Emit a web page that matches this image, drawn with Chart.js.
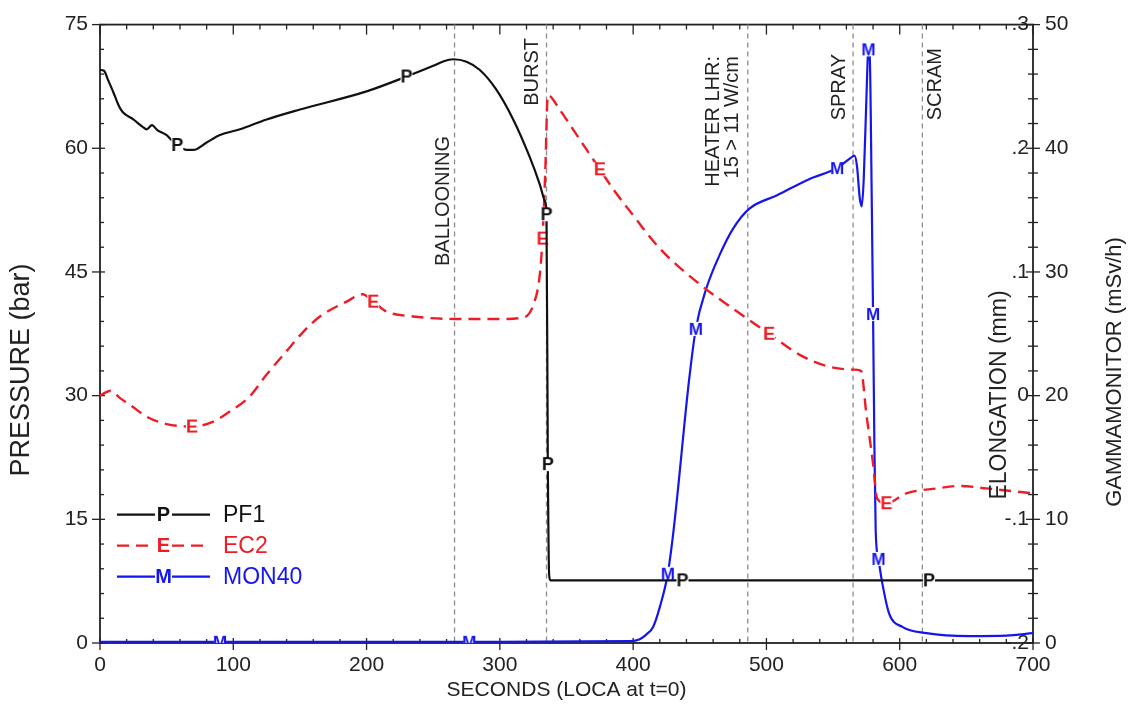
<!DOCTYPE html>
<html>
<head>
<meta charset="utf-8">
<script src="https://cdn.jsdelivr.net/npm/chart.js@4.4.0/dist/chart.umd.min.js"></script>
<style>
  html, body { margin: 0; padding: 0; background: #fff; }
  #wrap { width: 1133px; height: 718px; position: relative; }
</style>
</head>
<body>
<div id="wrap"><canvas id="loca"></canvas></div>
<script>
// PF1 pressure (bar), left axis
const pf1Time = [0, 3, 6, 10, 14, 17, 25, 32, 35, 39, 43, 50, 53, 58, 65, 70, 80, 90, 105, 125, 150, 200, 230, 250, 257, 265, 275, 285, 297, 310, 322, 330, 334, 335, 336, 337, 338, 437, 622, 700];
const pf1Pressure = [69.5, 69.4, 68.3, 66.8, 65.2, 64.4, 63.5, 62.6, 62.3, 62.8, 62.2, 61.6, 61.1, 60.4, 59.8, 59.8, 60.7, 61.6, 62.3, 63.5, 64.7, 66.9, 68.7, 70.0, 70.5, 70.8, 70.5, 69.5, 67.2, 63.5, 59.1, 55.6, 53.5, 52.0, 21.7, 8.2, 7.6, 7.6, 7.6, 7.6];
const pf1Marks = [58, 230, 335, 336, 437, 622];

// EC2 elongation (mm), inner right axis
const ec2Time = [0, 8, 15, 22, 35, 50, 69, 85, 97, 112, 125, 140, 152, 165, 185, 197, 205, 215, 235, 267, 300, 317, 325, 330, 332, 334, 336, 345, 360, 375, 385, 397, 420, 450, 478, 502, 525, 545, 565, 571, 575, 580, 583, 590, 605, 628, 645, 665, 700];
const ec2Elong = [0.000, 0.004, -0.002, -0.007, -0.017, -0.023, -0.025, -0.021, -0.013, -0.001, 0.017, 0.036, 0.051, 0.064, 0.076, 0.082, 0.076, 0.068, 0.064, 0.062, 0.062, 0.063, 0.073, 0.098, 0.127, 0.179, 0.243, 0.231, 0.207, 0.183, 0.167, 0.150, 0.119, 0.090, 0.068, 0.050, 0.033, 0.024, 0.021, 0.020, -0.015, -0.055, -0.083, -0.087, -0.079, -0.075, -0.073, -0.075, -0.079];
const ec2Marks = [69, 205, 332, 375, 502, 590];

// MON40 gamma monitor (mSv/h), outer right axis
const mon40Time = [0, 90, 277, 398, 405, 410, 415, 420, 426, 430, 434, 438, 442, 447, 455, 465, 475, 487, 508, 532, 553, 563, 566, 568, 570, 571.5, 573, 575, 576.5, 577.5, 579, 580, 581, 582, 584, 587, 592, 602, 620, 652, 680, 700];
const mon40Dose = [0.1, 0.1, 0.1, 0.15, 0.3, 0.7, 1.3, 2.9, 5.6, 8.8, 12.8, 17.2, 21.3, 25.4, 28.7, 31.4, 33.5, 35.1, 36.2, 37.5, 38.4, 39.2, 39.4, 38.5, 36, 35.3, 37.5, 44, 48, 47.5, 36, 26.6, 16, 9, 6.8, 4.8, 2.4, 1.3, 0.8, 0.56, 0.6, 0.8];
const mon40Marks = [90, 277, 426, 447, 553, 576.5, 580, 584];

// gebeurtenissen (verticale stippellijnen)
const eventTimes = [266, 335, 486, 565, 617];
const eventLabels = [['BALLOONING'], ['BURST'], ['HEATER LHR:', '15 > 11 W/cm'], ['SPRAY'], ['SCRAM']];
// plaatsing van de labels: horizontale verschuiving t.o.v. de lijn en bovenkant tekst
const eventLabelDx = [-11, -14, -34, -14, 13];
const eventLabelTop = [136, 38, 56, 54, 48];

// as-indeling
const xTickStep = 100, xMinorStep = 20;
const pTickStep = 15, pMinorStep = 3;
const gTickStep = 10, gMinorStep = 2;
const eTickStep = 0.1;

const FONT = "'Liberation Sans', Arial, Helvetica, sans-serif";
Chart.defaults.font.family = FONT;
Chart.defaults.color = '#222';

function toPoints(xs, ys) {
  return xs.map((x, i) => ({ x: x, y: ys[i] }));
}

// letter als puntmarkering
function letterMark(ch, color, size) {
  const c = document.createElement('canvas');
  c.width = 16; c.height = 18;
  const g = c.getContext('2d');
  g.fillStyle = '#fff';
  g.fillRect(2, 2, 12, 14);
  g.fillStyle = color;
  g.font = 'bold ' + size + 'px ' + FONT;
  g.textAlign = 'center';
  g.textBaseline = 'middle';
  g.fillText(ch, 8, 10);
  return c;
}

const black = '#111111';
const red = '#ee1c25';
const blue = '#1515ee';

function marker(marks) {
  return ctx => (ctx.raw && marks.includes(ctx.raw.x)) ? 8 : 0;
}

const data = {
  datasets: [{
    label: 'PF1',
    letter: 'P',
    data: toPoints(pf1Time, pf1Pressure),
    yAxisID: 'y',
    borderColor: black,
    borderWidth: 2.2,
    pointStyle: letterMark('P', black, 18),
    pointRadius: marker(pf1Marks)
  }, {
    label: 'EC2',
    letter: 'E',
    data: toPoints(ec2Time, ec2Elong),
    yAxisID: 'y1',
    borderColor: red,
    borderWidth: 2.4,
    borderDash: [12, 7],
    pointStyle: letterMark('E', red, 18),
    pointRadius: marker(ec2Marks)
  }, {
    label: 'MON40',
    letter: 'M',
    data: toPoints(mon40Time, mon40Dose),
    yAxisID: 'y2',
    borderColor: blue,
    borderWidth: 2.2,
    pointStyle: letterMark('M', blue, 17),
    pointRadius: marker(mon40Marks)
  }]
};

// kader met grote en kleine streepjes
const framePlugin = {
  id: 'frame',
  beforeDatasetsDraw(chart) {
    const { ctx, chartArea: a, scales } = chart;
    const tick = (x1, y1, x2, y2) => { ctx.beginPath(); ctx.moveTo(x1, y1); ctx.lineTo(x2, y2); ctx.stroke(); };
    ctx.save();
    ctx.strokeStyle = '#222';
    ctx.lineWidth = 1.8;
    ctx.strokeRect(a.left, a.top, a.right - a.left, a.bottom - a.top);
    ctx.lineWidth = 1.3;
    for (let s = scales.x.min; s <= scales.x.max; s += xMinorStep) {
      const x = scales.x.getPixelForValue(s);
      const major = s % xTickStep === 0;
      tick(x, a.bottom - (major ? 5 : 4), x, a.bottom + (major ? 7 : 0));
      tick(x, a.top, x, a.top + (major ? 10 : 5));
    }
    for (let p = scales.y.min; p <= scales.y.max; p += pMinorStep) {
      const y = scales.y.getPixelForValue(p);
      const major = p % pTickStep === 0;
      tick(a.left - (major ? 8 : 0), y, a.left + (major ? 5 : 4), y);
    }
    for (let g = scales.y2.min; g <= scales.y2.max; g += gMinorStep) {
      const y = scales.y2.getPixelForValue(g);
      const major = g % gTickStep === 0;
      tick(a.right - (major ? 7 : 5), y, a.right + (major ? 7 : 5), y);
    }
    ctx.restore();
  }
};

// verticale lijnen voor BALLOONING, BURST, ...
const eventPlugin = {
  id: 'events',
  beforeDatasetsDraw(chart) {
    const { ctx, chartArea: a, scales } = chart;
    ctx.save();
    ctx.strokeStyle = '#8c8c8c';
    ctx.lineWidth = 1.3;
    ctx.setLineDash([5, 4]);
    eventTimes.forEach((t, i) => {
      const x = scales.x.getPixelForValue(t);
      ctx.beginPath();
      ctx.moveTo(x, a.top);
      ctx.lineTo(x, a.bottom);
      ctx.stroke();
    });
    ctx.setLineDash([]);
    ctx.fillStyle = '#222';
    ctx.font = '20px ' + FONT;
    ctx.textAlign = 'right';
    ctx.textBaseline = 'middle';
    eventTimes.forEach((t, i) => {
      const x = scales.x.getPixelForValue(t) + eventLabelDx[i];
      ctx.save();
      ctx.translate(x, eventLabelTop[i]);
      ctx.rotate(-Math.PI / 2);
      eventLabels[i].forEach((line, j) => ctx.fillText(line, 0, j * 19));
      ctx.restore();
    });
    ctx.restore();
  }
};

// legenda linksonder in het plotvlak + verticale astitels
const legendPlugin = {
  id: 'lettLegend',
  afterDraw(chart) {
    const { ctx, chartArea: a } = chart;
    ctx.save();
    chart.data.datasets.forEach((ds, i) => {
      const y = a.top + 490 + i * 31;
      const x0 = a.left + 17, x1 = a.left + 110;
      ctx.strokeStyle = ds.borderColor;
      ctx.lineWidth = 2.2;
      ctx.setLineDash(ds.borderDash || []);
      ctx.beginPath(); ctx.moveTo(x0, y); ctx.lineTo(x0 + 38, y); ctx.stroke();
      ctx.beginPath(); ctx.moveTo(x1 - 38, y); ctx.lineTo(x1, y); ctx.stroke();
      ctx.setLineDash([]);
      ctx.fillStyle = ds.borderColor;
      ctx.textBaseline = 'middle';
      ctx.textAlign = 'center';
      ctx.font = 'bold 20px ' + FONT;
      ctx.fillText(ds.letter, (x0 + x1) / 2, y + 1);
      ctx.textAlign = 'left';
      ctx.font = '23px ' + FONT;
      ctx.fillText(ds.label, x1 + 13, y + 1);
    });

    const vtitle = (text, size, x, y) => {
      ctx.save();
      ctx.font = size + 'px ' + FONT;
      ctx.translate(x, y);
      ctx.rotate(-Math.PI / 2);
      ctx.textAlign = 'center';
      ctx.textBaseline = 'middle';
      ctx.fillText(text, 0, 0);
      ctx.restore();
    };
    ctx.fillStyle = '#222';
    vtitle('PRESSURE (bar)', 27, 22, 370);
    vtitle('ELONGATION (mm)', 23, a.right - 33, 395);
    vtitle('GAMMAMONITOR (mSv/h)', 22, a.right + 82, 372);
    ctx.restore();
  }
};

const axisFont = { size: 21 };
const noGrid = { display: false, drawTicks: false };

const config = {
  type: 'line',
  data: data,
  options: {
    responsive: true,
    maintainAspectRatio: false,
    animation: false,
    events: [],
    layout: { padding: { top: 22, left: 0, right: 0, bottom: 0 } },
    elements: { line: { cubicInterpolationMode: 'monotone' } },
    plugins: { legend: { display: false }, tooltip: { enabled: false } },
    scales: {
      x: {
        type: 'linear', min: 0, max: 700,
        ticks: { stepSize: xTickStep, padding: 10, font: axisFont, maxRotation: 0 },
        grid: noGrid, border: { display: false },
        title: { display: true, text: 'SECONDS (LOCA at t=0)', font: { size: 21 }, padding: { top: 2, bottom: 15 } },
        afterFit: s => { s.height = 75; }
      },
      y: {
        position: 'left', min: 0, max: 75,
        ticks: { stepSize: pTickStep, padding: 12, font: axisFont },
        grid: noGrid, border: { display: false },
        afterFit: s => { s.width = 100; }
      },
      y1: {
        position: 'right', min: -0.2, max: 0.3, weight: 0,
        ticks: {
          stepSize: eTickStep, mirror: true, padding: -4, font: axisFont,
          callback: v => {
            const r = Math.round(v * 10);
            if (r === 0) return '0';
            return (r < 0 ? '-' : '') + '.' + Math.abs(r);
          }
        },
        grid: noGrid, border: { display: false },
        afterFit: s => { s.width = 0; }
      },
      y2: {
        position: 'right', min: 0, max: 50, weight: 1,
        ticks: { stepSize: gTickStep, padding: 12, font: axisFont },
        grid: noGrid, border: { display: false },
        afterFit: s => { s.width = 100; }
      }
    }
  },
  plugins: [framePlugin, eventPlugin, legendPlugin]
};

const locaChart = new Chart(document.getElementById('loca'), config);
</script>
</body>
</html>
